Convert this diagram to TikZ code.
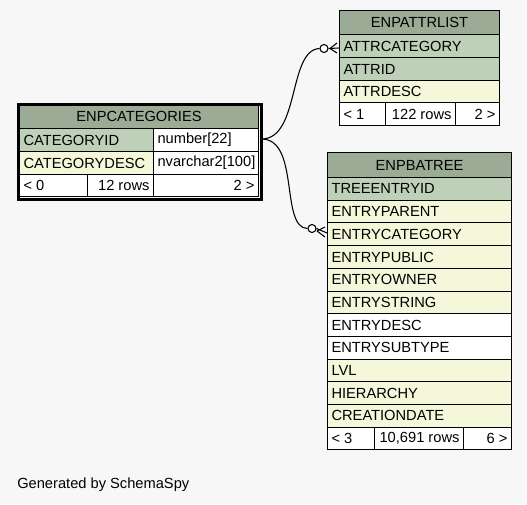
\documentclass[tikz,border=0pt]{standalone}
\usepackage{fontspec}
\setmainfont{Liberation Sans}
\usetikzlibrary{calc}
\definecolor{bg}{HTML}{F7F7F7}
\definecolor{hdr}{HTML}{9BAB96}
\definecolor{pk}{HTML}{BED1B8}
\definecolor{cream}{HTML}{F4F7DA}
\tikzset{
  cellbox/.style={draw=black, line width=0.75pt, anchor=north west, inner sep=0pt},
  celltext/.style={inner xsep=3.2pt, inner ysep=0pt, font=\fontsize{11}{12}\selectfont},
  edge/.style={draw=black, line width=0.8pt},
  odot/.style={circle, draw=black, fill=white, line width=0.8pt, minimum size=6pt, inner sep=0pt},
}
% #1 name, #2 x, #3 y, #4 w, #5 h, #6 fill, #7 side (west/east/center), #8 text
\newcommand\cell[8]{%
  \pgfmathsetmacro\cw{#4*0.75}\pgfmathsetmacro\ch{#5*0.75}%
  \node[cellbox, fill=#6, minimum width=\cw pt, minimum height=\ch pt] (#1) at (#2,#3) {};
  \node[celltext, anchor=#7] (#1t) at (#1.#7) {#8};}
\begin{document}
\begin{tikzpicture}[x=0.75pt, y=-0.75pt]
\fill[bg] (0,0) rectangle (527,504);
\useasboundingbox (0,0) rectangle (527,504);

% ENPCATEGORIES
\cell{cat}{19}{104}{239}{24}{hdr}{center}{ENPCATEGORIES}
\cell{catid}{19}{128}{134}{23}{pk}{west}{CATEGORYID}
\cell{catidt}{153}{128}{105}{23}{white}{west}{number[22]}
\cell{catdesc}{19}{151}{134}{23}{cream}{west}{CATEGORYDESC}
\cell{catdesct}{153}{151}{105}{23}{white}{west}{nvarchar2[100]}
\cell{catfa}{19}{174}{68}{22}{white}{west}{< 0}
\cell{catfb}{87}{174}{66}{22}{white}{east}{12 rows}
\cell{catfc}{153}{174}{105}{22}{white}{east}{2 >}
\node[draw=black, line width=2.6pt, anchor=north west, minimum width=182.5pt, minimum height=71.5pt, inner sep=0pt] (catframe) at (16.5,102.5) {};

% ENPATTRLIST
\cell{al}{339}{10}{160}{24}{hdr}{center}{ENPATTRLIST}
\cell{alcat}{339}{34}{160}{23}{pk}{west}{ATTRCATEGORY}
\cell{alid}{339}{57}{160}{23}{pk}{west}{ATTRID}
\cell{aldesc}{339}{80}{160}{22}{cream}{west}{ATTRDESC}
\cell{alfa}{339}{102}{46}{23}{white}{west}{< 1}
\cell{alfb}{385}{102}{70}{23}{white}{east}{122 rows}
\cell{alfc}{455}{102}{44}{23}{white}{east}{2 >}

% ENPBATREE
\cell{bt}{327}{152}{184}{25}{hdr}{center}{ENPBATREE}
\cell{bta}{327}{177}{184}{22.7}{pk}{west}{TREEENTRYID}
\cell{btb}{327}{199.7}{184}{22.7}{cream}{west}{ENTRYPARENT}
\cell{btc}{327}{222.4}{184}{22.7}{cream}{west}{ENTRYCATEGORY}
\cell{btd}{327}{245.1}{184}{22.7}{cream}{west}{ENTRYPUBLIC}
\cell{bte}{327}{267.8}{184}{22.7}{cream}{west}{ENTRYOWNER}
\cell{btf}{327}{290.5}{184}{22.7}{cream}{west}{ENTRYSTRING}
\cell{btg}{327}{313.2}{184}{22.7}{white}{west}{ENTRYDESC}
\cell{bth}{327}{335.9}{184}{22.7}{white}{west}{ENTRYSUBTYPE}
\cell{bti}{327}{358.6}{184}{22.7}{cream}{west}{LVL}
\cell{btj}{327}{381.3}{184}{22.7}{cream}{west}{HIERARCHY}
\cell{btk}{327}{404}{184}{22.7}{cream}{west}{CREATIONDATE}
\cell{btfa}{327}{426.7}{47}{22.5}{white}{west}{< 3}
\cell{btfb}{374}{426.7}{89}{22.5}{white}{east}{10,691 rows}
\cell{btfc}{463}{426.7}{48}{22.5}{white}{east}{6 >}

% connectors
\coordinate (s) at (261.5,139);
\node[odot] (o1) at (324,48.5) {};
\node[odot] (o2) at (312,228.5) {};
\coordinate (t1) at (alcat.west |- 0,48);
\coordinate (t2) at (btc.west |- 0,233);
\draw[edge] (s) .. controls (300,139) and (288,50) .. (o1.west);
\draw[edge] (s) .. controls (300,139) and (280,228) .. (o2.west);
\draw[edge] (o1.east) -- (t1);
\draw[edge] (o2.east) -- (t2);
\draw[edge] ($(t1)+(-9,0.5)$) -- ($(t1)+(-2,-5)$);
\draw[edge] ($(t1)+(-9,0.5)$) -- ($(t1)+(-2,5)$);
\draw[edge] ($(t2)+(-10,-2)$) -- ($(t2)+(-2,-6)$);
\draw[edge] ($(t2)+(-10,-2)$) -- ($(t2)+(-2,4)$);

\node[anchor=base west, inner sep=0pt, font=\fontsize{11}{12}\selectfont] (gen) at (17,488) {Generated by SchemaSpy};
\end{tikzpicture}
\end{document}
